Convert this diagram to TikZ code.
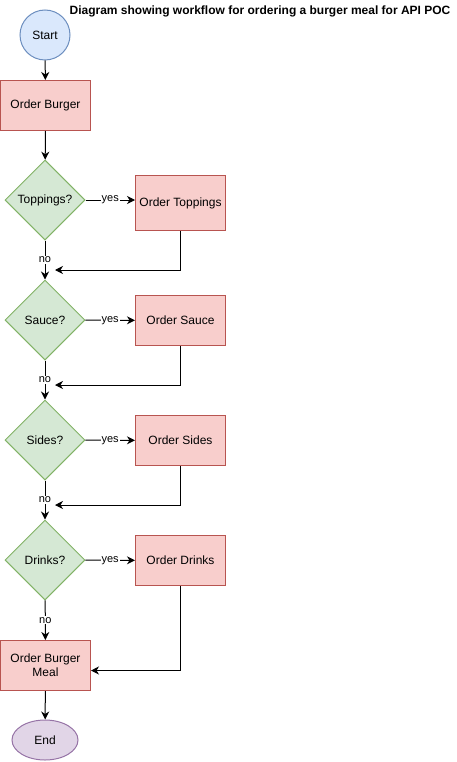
\documentclass[tikz,border=0pt]{standalone}
\usepackage{fontspec}
\setmainfont{Liberation Sans}
\usetikzlibrary{arrows.meta,shapes.geometric}

\definecolor{bluefill}{HTML}{DAE8FC}
\definecolor{bluestroke}{HTML}{6C8EBF}
\definecolor{redfill}{HTML}{F8CECC}
\definecolor{redstroke}{HTML}{B85450}
\definecolor{greenfill}{HTML}{D5E8D4}
\definecolor{greenstroke}{HTML}{82B366}
\definecolor{purplefill}{HTML}{E1D5E7}
\definecolor{purplestroke}{HTML}{9673A6}

\tikzset{
  base/.style={line width=1pt, inner sep=0pt, align=center,
    font=\fontsize{12}{14}\selectfont},
  startnode/.style={base, circle, draw=bluestroke, fill=bluefill, minimum size=50pt},
  endnode/.style={base, ellipse, draw=purplestroke, fill=purplefill,
    minimum width=66pt, minimum height=40pt},
  task/.style={base, rectangle, draw=redstroke, fill=redfill,
    minimum width=90pt, minimum height=50pt},
  question/.style={base, diamond, draw=greenstroke, fill=greenfill,
    minimum width=80pt, minimum height=80pt},
  flow/.style={line width=1pt, -{Stealth[length=8pt,width=8pt,inset=2.5pt]}},
  edgelabel/.style={fill=white, inner sep=1pt, font=\fontsize{11}{12}\selectfont}
}

\begin{document}
\begin{tikzpicture}[x=1pt,y=-1pt]
  \useasboundingbox (0,0) rectangle (457,762);

  % heading
  \node[font=\bfseries\fontsize{12}{14}\selectfont] (title) at (260,11)
    {Diagram showing workflow for ordering a burger meal for API POC};

  % main column
  \node[startnode] (start) at (45,35) {Start};
  \node[task] (burger) at (45.5,105.5) {Order Burger};
  \node[question] (qtop) at (45,200) {Toppings?};
  \node[question] (qsauce) at (45,320) {Sauce?};
  \node[question] (qsides) at (45,440) {Sides?};
  \node[question] (qdrinks) at (45,560) {Drinks?};
  \node[task] (meal) at (45.5,665.5) {Order Burger\\Meal};
  \node[endnode] (end) at (45,740) {End};

  % side tasks
  \node[task, minimum height=55pt] (otop) at (180.5,203) {Order Toppings};
  \node[task] (osauce) at (180.5,320.5) {Order Sauce};
  \node[task] (osides) at (180.5,440.5) {Order Sides};
  \node[task] (odrinks) at (180.5,560.5) {Order Drinks};

  % return points on the main column
  \coordinate (jtop) at (55,270);
  \coordinate (jsauce) at (55,385);
  \coordinate (jsides) at (55,505);

  % main flow
  \draw[flow] (start) -- (burger);
  \draw[flow] (burger) -- (qtop);
  \draw[flow] (qtop) -- node[edgelabel] {no} (qsauce);
  \draw[flow] (qsauce) -- node[edgelabel] {no} (qsides);
  \draw[flow] (qsides) -- node[edgelabel] {no} (qdrinks);
  \draw[flow] (qdrinks) -- node[edgelabel] {no} (meal);
  \draw[flow] (meal) -- (end);

  % optional extras
  \draw[flow] (qtop.east) -- node[edgelabel] {yes} (otop.west |- qtop.east);
  \draw[flow] (qsauce) -- node[edgelabel] {yes} (osauce);
  \draw[flow] (qsides) -- node[edgelabel] {yes} (osides);
  \draw[flow] (qdrinks) -- node[edgelabel] {yes} (odrinks);

  % returns
  \draw[flow] (otop.south) |- (jtop);
  \draw[flow] (osauce.south) |- (jsauce);
  \draw[flow] (osides.south) |- (jsides);
  \draw[flow] (odrinks.south) |- ([yshift=-5pt]meal.east);
\end{tikzpicture}
\end{document}
